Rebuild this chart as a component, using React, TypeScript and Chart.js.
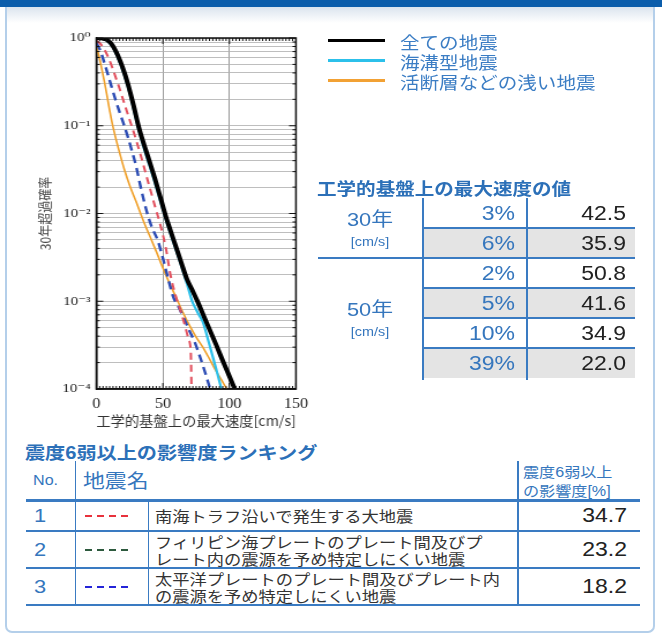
import React, { useEffect, useRef } from "react";
import { Chart, registerables } from "chart.js";

Chart.register(...registerables);

// ---------- data ----------
const ALL_V = [0, 4, 8, 12, 16, 20, 24, 28, 32, 36, 40, 44, 48, 52, 56, 60, 64, 68, 72, 76, 80, 85, 90, 95, 100, 104];
const ALL_P = [1.0, 0.995, 0.95, 0.83, 0.64, 0.45, 0.29, 0.17, 0.095, 0.06, 0.039, 0.025, 0.0155, 0.0095, 0.0062, 0.0041, 0.0027, 0.0018, 0.00135, 0.001, 0.00072, 0.00048, 0.00032, 0.00021, 0.00014, 0.0001];

const TRENCH_V = [0, 4, 8, 12, 16, 20, 24, 28, 32, 36, 40, 44, 48, 52, 56, 60, 64, 68, 72, 76, 80, 85, 90, 94];
const TRENCH_P = [1.0, 0.99, 0.93, 0.8, 0.61, 0.42, 0.27, 0.155, 0.088, 0.054, 0.035, 0.0225, 0.014, 0.0088, 0.0057, 0.0038, 0.0025, 0.0016, 0.001, 0.00075, 0.00058, 0.00032, 0.00017, 0.0001];

const SHALLOW_V = [0, 2, 4, 6, 8, 10, 12, 15, 18, 21, 25, 30, 35, 40, 45, 50, 55, 60, 65, 70, 75, 80, 85, 90, 95, 98];
const SHALLOW_P = [0.8, 0.62, 0.45, 0.32, 0.22, 0.15, 0.105, 0.068, 0.046, 0.032, 0.021, 0.0135, 0.0085, 0.0056, 0.0037, 0.0024, 0.0016, 0.0011, 0.00075, 0.00053, 0.00039, 0.0003, 0.00022, 0.00016, 0.00012, 0.0001];

const NANKAI_V = [0, 3, 6, 9, 12, 15, 18, 21, 24, 27, 30, 33, 36, 40, 44, 48, 52, 56, 60, 64, 67, 69.5, 71, 71.5];
const NANKAI_P = [0.92, 0.86, 0.74, 0.6, 0.46, 0.34, 0.25, 0.18, 0.13, 0.095, 0.068, 0.048, 0.033, 0.02, 0.0122, 0.0075, 0.0042, 0.0019, 0.0011, 0.00072, 0.0005, 0.00036, 0.00026, 0.0001];

const PHIL_V = [0, 4, 8, 12, 16, 20, 24, 28, 32, 36, 40, 44, 48, 52, 56, 60, 64, 68, 72, 76, 80, 85, 90, 95, 100, 104];
const PHIL_P = [1.0, 0.99, 0.93, 0.8, 0.6, 0.42, 0.27, 0.16, 0.09, 0.057, 0.037, 0.024, 0.015, 0.0092, 0.006, 0.004, 0.0026, 0.00175, 0.0013, 0.00097, 0.0007, 0.00047, 0.00031, 0.0002, 0.000135, 0.0001];

const PACIFIC_V = [0, 3, 6, 9, 12, 15, 18, 21, 24, 27, 30, 33, 36, 39, 42, 46, 50, 54, 58, 62, 66, 70, 74, 78, 82, 85.5];
const PACIFIC_P = [0.88, 0.72, 0.52, 0.37, 0.26, 0.185, 0.135, 0.1, 0.072, 0.05, 0.034, 0.021, 0.0135, 0.0092, 0.0068, 0.005, 0.0031, 0.0018, 0.0011, 0.00085, 0.00063, 0.00046, 0.00034, 0.00023, 0.00015, 0.0001];

const X_MIN = 0;
const X_MAX = 150;
const X_STEP = 50;
const X_MINOR_STEP = 2.5;
const Y_DECADES = [-4, -3, -2, -1, 0];
const X_TITLE = "工学的基盤上の最大速度[cm/s]";
const Y_TITLE = "30年超過確率";

const LEGEND_LABELS = ["全ての地震", "海溝型地震", "活断層などの浅い地震"];
const LEGEND_COLORS = ["#000000", "#2cc0ea", "#f2a134"];

const TABLE_TITLE = "工学的基盤上の最大速度の値";
const PERIODS = ["30年", "50年"];
const UNIT = "[cm/s]";
const PCT_30 = ["3%", "6%"];
const VAL_30 = [42.5, 35.9];
const PCT_50 = ["2%", "5%", "10%", "39%"];
const VAL_50 = [50.8, 41.6, 34.9, 22.0];

const RANK_TITLE = "震度6弱以上の影響度ランキング";
const RANK_HEAD = ["No.", "地震名", "震度6弱以上", "の影響度[%]"];
const RANK_NO = ["1", "2", "3"];
const RANK_NAMES = [
  ["南海トラフ沿いで発生する大地震"],
  ["フィリピン海プレートのプレート間及びプ", "レート内の震源を予め特定しにくい地震"],
  ["太平洋プレートのプレート間及びプレート内", "の震源を予め特定しにくい地震"],
];
const RANK_VALUES = [34.7, 23.2, 18.2];
const RANK_COLORS = ["#e8323c", "#2d5a3e", "#2424d8"];

// ---------- style constants ----------
const S = 1.15; // horizontal stretch of the reference
const W = 662;
const H = 635;
const CJK = "'Noto Sans CJK JP', sans-serif";
const LAT = "'Liberation Sans', 'Noto Sans CJK JP', sans-serif";
const SERIF = "'Liberation Serif', 'DejaVu Serif', serif";
const BLUE = "#3576bd";
const LINE_BLUE = "#3a7bc2";

const SUP: Record<string, string> = { "0": "⁰", "1": "¹", "2": "²", "3": "³", "4": "⁴", "5": "⁵", "-": "⁻" };
const sup = (n: number) => String(n).split("").map((c) => SUP[c] || c).join("");

const pts = (v: number[], p: number[]) => v.map((x, i) => ({ x, y: p[i] }));

type TxtProps = {
  x: number;
  y: number;
  size: number;
  color?: string;
  bold?: boolean;
  align?: "left" | "right" | "center";
  family?: string;
  children: React.ReactNode;
};

function Txt({ x, y, size, color = "#333", bold, align = "left", family = LAT, children }: TxtProps) {
  const lh = Math.round(size * 1.25);
  const style: React.CSSProperties = {
    position: "absolute",
    top: y - lh / 2,
    fontSize: size,
    lineHeight: lh + "px",
    color,
    fontWeight: bold ? 700 : 400,
    fontFamily: family,
    whiteSpace: "nowrap",
  };
  if (align === "left") {
    style.left = x;
    style.transform = `scaleX(${S})`;
    style.transformOrigin = "left center";
  } else if (align === "right") {
    style.right = W - x;
    style.transform = `scaleX(${S})`;
    style.transformOrigin = "right center";
  } else {
    style.left = x;
    style.transform = `translateX(-50%) scaleX(${S})`;
    style.transformOrigin = "center center";
  }
  return <div style={style}>{children}</div>;
}

function Box({ x, y, w, h, bg }: { x: number; y: number; w: number; h: number; bg: string }) {
  return <div style={{ position: "absolute", left: x, top: y, width: w, height: h, background: bg }} />;
}

// ---------- chart ----------
const CW = 330 / S;
const CH = 440;
const PLOT_L = 96 / S;
const PLOT_R = 296 / S;
const PLOT_T = 38;
const PLOT_B = 389;

const framePlugin = {
  id: "frameTicks",
  afterDatasetsDraw(chart: any) {
    const { ctx, chartArea } = chart;
    const { left, right, top, bottom } = chartArea;
    const xs = chart.scales.x;
    const ys = chart.scales.y;
    ctx.save();
    ctx.strokeStyle = "#111";
    ctx.lineWidth = 1.5;
    ctx.strokeRect(left, top, right - left, bottom - top);
    ctx.lineWidth = 1;
    ctx.beginPath();
    for (let v = X_MIN; v <= X_MAX + 1e-9; v += X_MINOR_STEP) {
      const px = xs.getPixelForValue(v);
      const L = Math.abs(v % X_STEP) < 1e-9 ? 6 : 3;
      ctx.moveTo(px, top);
      ctx.lineTo(px, top + L);
      ctx.moveTo(px, bottom);
      ctx.lineTo(px, bottom - L);
    }
    ys.ticks.forEach((t: any) => {
      const py = ys.getPixelForValue(t.value);
      const e = Math.log10(t.value);
      const L = Math.abs(e - Math.round(e)) < 1e-6 ? 6 : 3;
      ctx.moveTo(left, py);
      ctx.lineTo(left + L, py);
      ctx.moveTo(right, py);
      ctx.lineTo(right - L, py);
    });
    ctx.stroke();
    ctx.restore();
  },
};

function HazardChart() {
  const ref = useRef<HTMLCanvasElement | null>(null);
  useEffect(() => {
    if (!ref.current) return;
    const line = (label: string, v: number[], p: number[], color: string, width: number, dash: number[] = []) => ({
      label,
      data: pts(v, p),
      borderColor: color,
      backgroundColor: color,
      borderWidth: width,
      borderDash: dash,
      pointRadius: 0,
      fill: false,
      cubicInterpolationMode: "monotone" as const,
    });
    const chart = new Chart(ref.current, {
      type: "line",
      data: {
        datasets: [
          line(LEGEND_LABELS[0], ALL_V, ALL_P, "#000000", 4),
          line(LEGEND_LABELS[1], TRENCH_V, TRENCH_P, "#2cc0ea", 2.2),
          line(RANK_NAMES[0][0], NANKAI_V, NANKAI_P, "#e2505e", 2, [7, 5]),
          line(RANK_NAMES[2].join(""), PACIFIC_V, PACIFIC_P, "#2c4cb4", 2.4, [8, 5]),
          line(LEGEND_LABELS[2], SHALLOW_V, SHALLOW_P, "#f0a02a", 1.6),
          line(RANK_NAMES[1].join(""), PHIL_V, PHIL_P, "#2d6a4e", 2, [6, 4]),
        ] as any,
      },
      options: {
        responsive: false,
        animation: false,
        layout: { padding: { top: PLOT_T, right: CW - PLOT_R, bottom: 0, left: 0 } },
        plugins: { legend: { display: false }, tooltip: { enabled: false } },
        scales: {
          x: {
            type: "linear",
            min: X_MIN,
            max: X_MAX,
            ticks: { stepSize: X_STEP, padding: 7, color: "#222", font: { family: SERIF, size: 14 } },
            grid: { color: "#9c9c9c", lineWidth: 1, drawTicks: false },
            border: { color: "#111", width: 1.5 },
            title: {
              display: true,
              text: X_TITLE,
              color: "#333",
              font: { family: CJK, size: 13.5 },
              padding: { top: 0, bottom: 11 },
            },
            afterFit: (s: any) => {
              s.height = CH - PLOT_B;
            },
          },
          y: {
            type: "logarithmic",
            min: Math.pow(10, Y_DECADES[0]),
            max: Math.pow(10, Y_DECADES[Y_DECADES.length - 1]),
            afterBuildTicks: (s: any) => {
              const ticks: { value: number }[] = [];
              Y_DECADES.forEach((e, i) => {
                const last = i === Y_DECADES.length - 1;
                const ms = last ? [1] : [1, 2, 3, 4, 5, 6, 7, 8, 9];
                ms.forEach((m) => ticks.push({ value: Number((m * Math.pow(10, e)).toPrecision(6)) }));
              });
              s.ticks = ticks;
            },
            ticks: {
              autoSkip: false,
              padding: 5,
              color: "#222",
              font: { family: SERIF, size: 13 },
              callback: (val: any) => {
                const v = Number(val);
                const e = Math.log10(v);
                const r = Math.round(e);
                return Math.abs(e - r) < 1e-6 ? "10" + sup(r) : "";
              },
            },
            grid: { color: "#adadad", lineWidth: 0.8, drawTicks: false },
            border: { color: "#111", width: 1.5 },
            title: {
              display: true,
              text: Y_TITLE,
              color: "#444",
              font: { family: CJK, size: 12 },
              padding: { top: 32, bottom: 0 },
            },
            afterFit: (s: any) => {
              s.width = PLOT_L;
            },
          },
        },
      } as any,
      plugins: [framePlugin],
    });
    return () => chart.destroy();
  }, []);
  return (
    <div
      style={{
        position: "absolute",
        left: 0,
        top: 0,
        width: CW,
        height: CH,
        transform: `scaleX(${S})`,
        transformOrigin: "0 0",
      }}
    >
      <canvas ref={ref} width={CW} height={CH} style={{ width: CW, height: CH, display: "block" }} />
    </div>
  );
}

// ---------- page ----------
export default function App() {
  // table 1 geometry
  const rowTop = 197.5;
  const rowH = 30;
  const pcts = [...PCT_30, ...PCT_50];
  const vals = [...VAL_30, ...VAL_50];
  const groups = [
    { label: PERIODS[0], start: 0, n: PCT_30.length },
    { label: PERIODS[1], start: PCT_30.length, n: PCT_50.length },
  ];
  const tLeft = 318;
  const c1 = 423;
  const c2 = 527;
  const tRight = 635;

  // table 2 geometry
  const hdrLine = 500;
  const rowLines = [531, 568, 605];
  const rowTops = [hdrLine, ...rowLines.slice(0, 2)];

  return (
    <div style={{ position: "absolute", left: 0, top: 0, width: W, height: H, background: "#fff", overflow: "hidden" }}>
      {/* frame */}
      <div
        style={{
          position: "absolute",
          left: 5,
          top: 5,
          width: 650,
          height: 628,
          border: "2px solid #b4cfea",
          borderTop: "none",
          borderRadius: "0 0 7px 7px",
          boxSizing: "border-box",
        }}
      />
      <div style={{ position: "absolute", left: 7, top: 7, width: 646, height: 16, background: "linear-gradient(#dbe4ee, #ffffff)" }} />
      <Box x={0} y={0} w={W} h={7} bg="#0b5dab" />

      <HazardChart />

      {/* legend */}
      {LEGEND_LABELS.map((t, i) => (
        <React.Fragment key={t}>
          <Box x={328} y={39 + i * 20} w={57} h={3} bg={LEGEND_COLORS[i]} />
          <Txt x={400} y={41.5 + i * 20} size={17} color="#3b7dc4" family={CJK}>
            {t}
          </Txt>
        </React.Fragment>
      ))}

      {/* table 1 */}
      <Txt x={317} y={187} size={17} bold color="#2c70b8" family={CJK}>
        {TABLE_TITLE}
      </Txt>
      {pcts.map((p, i) =>
        i % 2 === 1 ? <Box key={"g" + i} x={c1} y={rowTop + i * rowH} w={tRight - c1} h={rowH} bg="#e4e4e4" /> : null
      )}
      {pcts.slice(0, -1).map((p, i) => {
        const isGroupEnd = i === PCT_30.length - 1;
        const x0 = isGroupEnd ? tLeft : c1;
        return <Box key={"h" + i} x={x0} y={rowTop + (i + 1) * rowH - 1} w={tRight - x0} h={2} bg={LINE_BLUE} />;
      })}
      <Box x={c1 - 1} y={rowTop} w={2} h={pcts.length * rowH + 2} bg={LINE_BLUE} />
      <Box x={c2 - 1} y={rowTop} w={2} h={pcts.length * rowH + 2} bg={LINE_BLUE} />
      {groups.map((g) => {
        const cy = rowTop + (g.start + g.n / 2) * rowH;
        return (
          <React.Fragment key={g.label}>
            <Txt x={370} y={cy - 8} size={19} color={BLUE} align="center">
              {g.label}
            </Txt>
            <Txt x={370} y={cy + 14} size={12.5} color={BLUE} align="center">
              {UNIT}
            </Txt>
          </React.Fragment>
        );
      })}
      {pcts.map((p, i) => (
        <React.Fragment key={"r" + i}>
          <Txt x={515} y={rowTop + i * rowH + rowH / 2 + 1} size={20} color={BLUE} align="right">
            {p}
          </Txt>
          <Txt x={626} y={rowTop + i * rowH + rowH / 2 + 1} size={20} color="#222" align="right">
            {vals[i].toFixed(1)}
          </Txt>
        </React.Fragment>
      ))}

      {/* table 2 */}
      <Txt x={25} y={453} size={17.5} bold color="#2c70b8">
        {RANK_TITLE}
      </Txt>
      <Txt x={33} y={480} size={14} color={BLUE}>
        {RANK_HEAD[0]}
      </Txt>
      <Txt x={83} y={480} size={19} color={BLUE} family={CJK}>
        {RANK_HEAD[1]}
      </Txt>
      <Txt x={523} y={472} size={14} color={BLUE}>
        {RANK_HEAD[2]}
      </Txt>
      <Txt x={523} y={491} size={14} color={BLUE}>
        {RANK_HEAD[3]}
      </Txt>
      <Box x={74.5} y={461} w={1.5} h={rowLines[2] - 461} bg={LINE_BLUE} />
      <Box x={517} y={461} w={1.5} h={rowLines[2] - 461} bg={LINE_BLUE} />
      <Box x={147.5} y={hdrLine} w={1.5} h={rowLines[2] - hdrLine} bg={LINE_BLUE} />
      <Box x={26} y={hdrLine - 1} w={614} h={2.5} bg={LINE_BLUE} />
      {rowLines.map((y, i) => (
        <Box key={"l" + i} x={26} y={y - 1} w={614} h={2} bg={LINE_BLUE} />
      ))}
      {RANK_NO.map((n, i) => {
        const cy = (rowTops[i] + rowLines[i]) / 2;
        const lines = RANK_NAMES[i];
        return (
          <React.Fragment key={"k" + n}>
            <Txt x={34} y={cy} size={19} color={BLUE}>
              {n}
            </Txt>
            <div
              style={{
                position: "absolute",
                left: 85,
                top: cy - 1,
                width: 44,
                height: 2.5,
                background: `repeating-linear-gradient(to right, ${RANK_COLORS[i]} 0 7px, transparent 7px 12px)`,
              }}
            />
            {lines.map((t, j) => (
              <Txt key={j} x={155} y={cy + (j - (lines.length - 1) / 2) * 17} size={15} color="#333" family={CJK}>
                {t}
              </Txt>
            ))}
            <Txt x={627} y={cy} size={20} color="#222" align="right">
              {RANK_VALUES[i].toFixed(1)}
            </Txt>
          </React.Fragment>
        );
      })}
    </div>
  );
}
